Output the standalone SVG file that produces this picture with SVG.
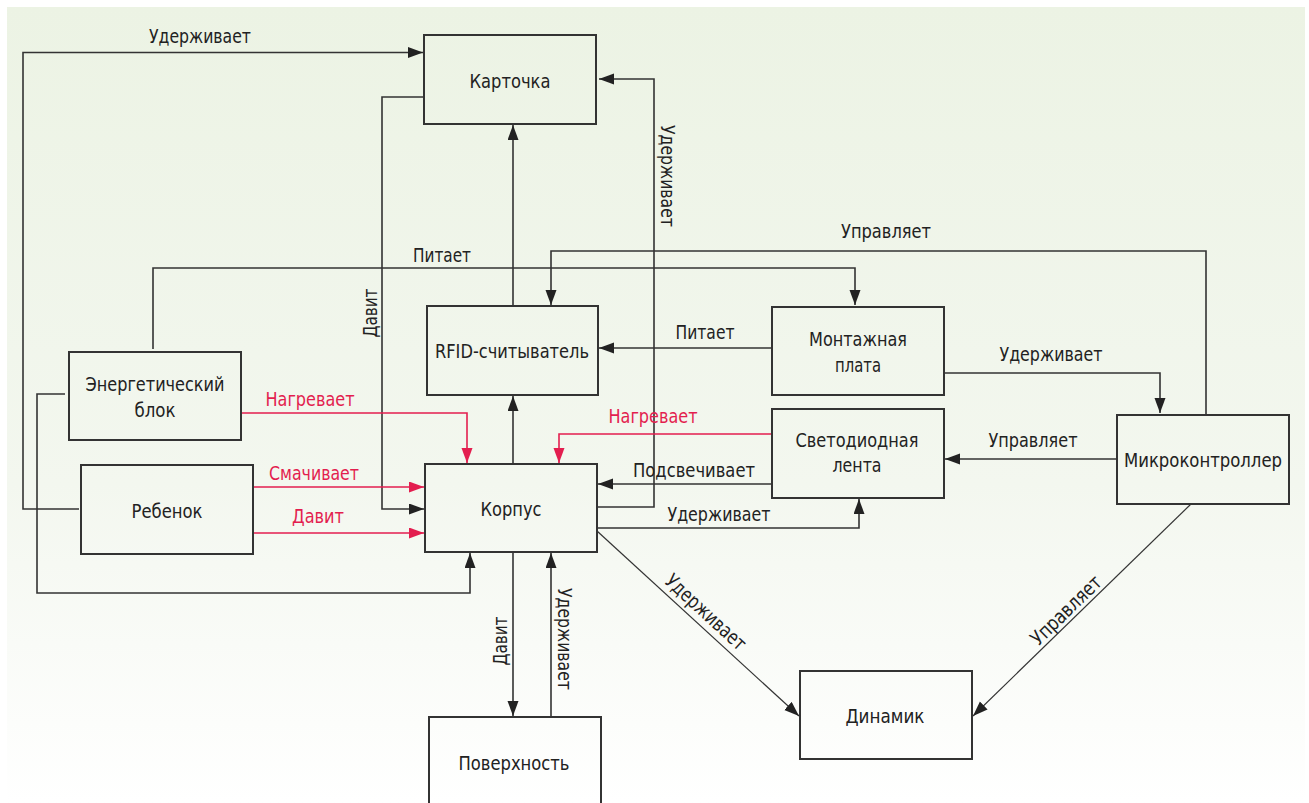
<svg xmlns="http://www.w3.org/2000/svg" width="1309" height="803" viewBox="0 0 1309 803">
<defs>
<linearGradient id="bg" x1="0" y1="0" x2="0" y2="1">
<stop offset="0" stop-color="#ecf3e4"/>
<stop offset="0.6" stop-color="#f3f7ef"/>
<stop offset="1" stop-color="#ffffff"/>
</linearGradient>
<marker id="ak" markerUnits="userSpaceOnUse" markerWidth="16" markerHeight="12" refX="15" refY="5.5" orient="auto"><path d="M0,0 L15,5.5 L0,11 z" fill="#222"/></marker>
<marker id="ar" markerUnits="userSpaceOnUse" markerWidth="16" markerHeight="12" refX="15" refY="5.5" orient="auto"><path d="M0,0 L15,5.5 L0,11 z" fill="#e31e4f"/></marker>
<style>
.box{fill:none;stroke:#333;stroke-width:2}
.c{fill:none;stroke:#333;stroke-width:1.6;marker-end:url(#ak)}
.cn{fill:none;stroke:#333;stroke-width:1.6}
.cd{fill:none;stroke:#333;stroke-width:1.2;marker-end:url(#ak)}
.r{fill:none;stroke:#e31e4f;stroke-width:1.6;marker-end:url(#ar)}
text{font-family:"DejaVu Sans Condensed","Liberation Sans Narrow","Liberation Sans",sans-serif;font-size:20px;fill:#222;text-anchor:middle}
text.red{fill:#e31e4f}
</style>
</defs>
<rect x="7" y="7" width="1298" height="796" fill="url(#bg)"/>
<g id="connectors">
<path class="c" d="M79,509 H23 V52.5 H423"/>
<path class="c" d="M424,97 H382 V509 H424"/>
<path class="c" d="M513,306 V125"/>
<path class="c" d="M597,507 H654 V79 H599"/>
<path class="c" d="M153,349 V268 H855 V305"/>
<path class="c" d="M1206,415 V251 H551 V305"/>
<path class="c" d="M772,348 H599"/>
<path class="c" d="M944,373 H1160 V413"/>
<path class="c" d="M1117,459 H945"/>
<path class="c" d="M772,484 H598"/>
<path class="c" d="M597,528 H859 V499"/>
<path class="r" d="M772,434 H559 V463"/>
<path class="r" d="M241,413 H467 V463"/>
<path class="r" d="M253,487 H424"/>
<path class="r" d="M253,533 H424"/>
<path class="c" d="M65,394 H37 V593 H470 V553"/>
<path class="c" d="M513,464 V396"/>
<path class="c" d="M513,552 V716"/>
<path class="c" d="M551,717 V553"/>
<path class="cd" d="M597,531 L799,716"/>
<path class="cd" d="M1191,504 L973,716"/>
<text x="200" y="43" textLength="102" lengthAdjust="spacingAndGlyphs">Удерживает</text>
<text x="442" y="262" textLength="58" lengthAdjust="spacingAndGlyphs">Питает</text>
<text x="886" y="238" textLength="90" lengthAdjust="spacingAndGlyphs">Управляет</text>
<text transform="translate(661,176) rotate(90)" textLength="102" lengthAdjust="spacingAndGlyphs">Удерживает</text>
<text transform="translate(377,313) rotate(-90)" textLength="49" lengthAdjust="spacingAndGlyphs">Давит</text>
<text class="red" x="310" y="406" textLength="89" lengthAdjust="spacingAndGlyphs">Нагревает</text>
<text class="red" x="314" y="480" textLength="90" lengthAdjust="spacingAndGlyphs">Смачивает</text>
<text class="red" x="318" y="523" textLength="52" lengthAdjust="spacingAndGlyphs">Давит</text>
<text class="red" x="653" y="423" textLength="89" lengthAdjust="spacingAndGlyphs">Нагревает</text>
<text x="705" y="339" textLength="59" lengthAdjust="spacingAndGlyphs">Питает</text>
<text x="1051" y="361" textLength="103" lengthAdjust="spacingAndGlyphs">Удерживает</text>
<text x="1033" y="447" textLength="89" lengthAdjust="spacingAndGlyphs">Управляет</text>
<text x="694" y="477" textLength="122" lengthAdjust="spacingAndGlyphs">Подсвечивает</text>
<text x="719" y="521" textLength="103" lengthAdjust="spacingAndGlyphs">Удерживает</text>
<text transform="translate(507,641) rotate(-90)" textLength="49" lengthAdjust="spacingAndGlyphs">Давит</text>
<text transform="translate(558,639) rotate(90)" textLength="102" lengthAdjust="spacingAndGlyphs">Удерживает</text>
<text transform="translate(706,612) rotate(42.6)" y="7" textLength="102" lengthAdjust="spacingAndGlyphs">Удерживает</text>
<text transform="translate(1066,610) rotate(-44.2)" y="7" textLength="90" lengthAdjust="spacingAndGlyphs">Управляет</text>
</g>
<g id="kartochka"><rect class="box" x="424" y="35" width="172" height="89"/><text x="510" y="88" textLength="81" lengthAdjust="spacingAndGlyphs">Карточка</text></g>
<g id="rfid"><rect class="box" x="427" y="306" width="171" height="89"/><text x="512" y="358" textLength="154" lengthAdjust="spacingAndGlyphs">RFID-считыватель</text></g>
<g id="energy"><rect class="box" x="69" y="352" width="172" height="88"/><text x="155" y="391" textLength="139" lengthAdjust="spacingAndGlyphs">Энергетический</text><text x="155" y="417" textLength="41" lengthAdjust="spacingAndGlyphs">блок</text></g>
<g id="rebenok"><rect class="box" x="81" y="465" width="172" height="89"/><text x="167" y="518" textLength="71" lengthAdjust="spacingAndGlyphs">Ребенок</text></g>
<g id="korpus"><rect class="box" x="425" y="464" width="172" height="88"/><text x="511" y="516" textLength="61" lengthAdjust="spacingAndGlyphs">Корпус</text></g>
<g id="montazh"><rect class="box" x="772" y="307" width="172" height="88"/><text x="858" y="346" textLength="98" lengthAdjust="spacingAndGlyphs">Монтажная</text><text x="858" y="372" textLength="46" lengthAdjust="spacingAndGlyphs">плата</text></g>
<g id="led"><rect class="box" x="772" y="409" width="172" height="89"/><text x="857" y="447" textLength="123" lengthAdjust="spacingAndGlyphs">Светодиодная</text><text x="857" y="472" textLength="49" lengthAdjust="spacingAndGlyphs">лента</text></g>
<g id="mcu"><rect class="box" x="1117" y="415" width="172" height="89"/><text x="1203" y="467" textLength="158" lengthAdjust="spacingAndGlyphs">Микроконтроллер</text></g>
<g id="dinamik"><rect class="box" x="800" y="671" width="172" height="88"/><text x="885" y="723" textLength="79" lengthAdjust="spacingAndGlyphs">Динамик</text></g>
<g id="poverkhnost"><path class="box" d="M429,805 V717 H601 V805"/><text x="514" y="770" textLength="111" lengthAdjust="spacingAndGlyphs">Поверхность</text></g>
</svg>
